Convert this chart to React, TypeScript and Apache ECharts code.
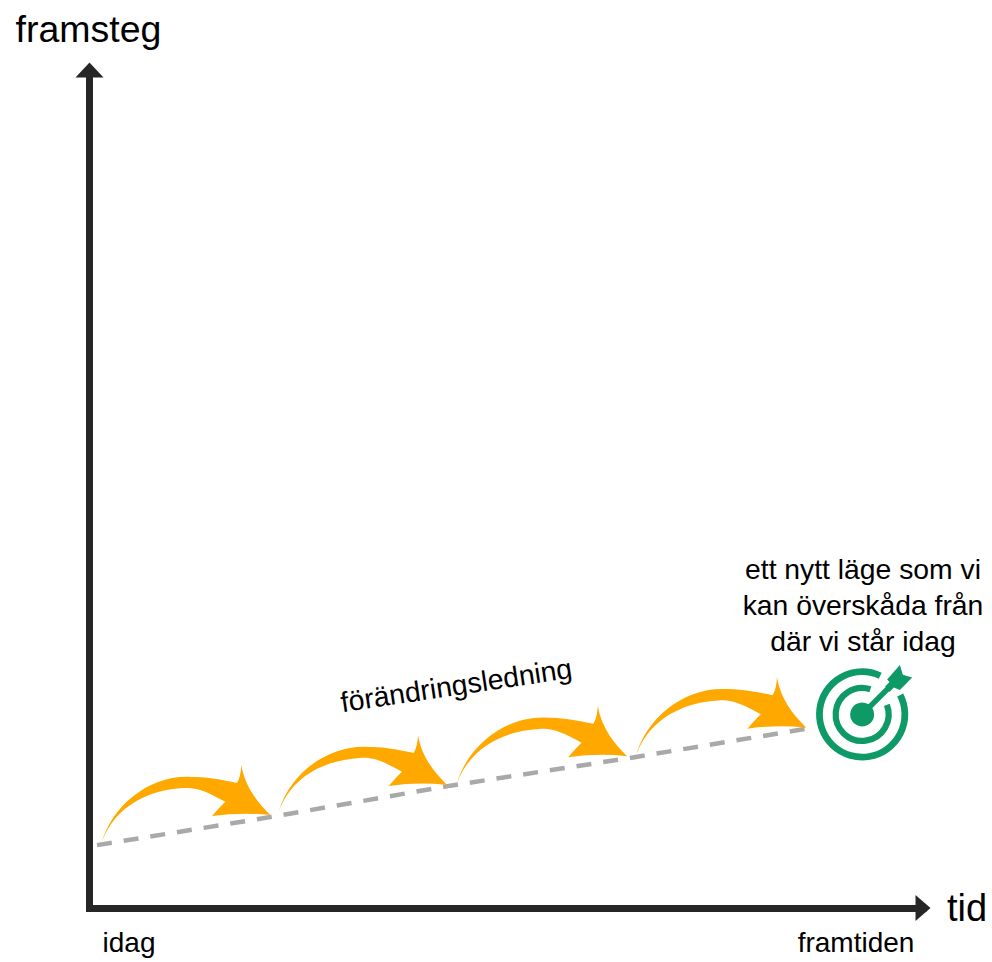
import React, { useEffect, useRef } from "react";
import * as echarts from "echarts";

// Data (both axes run 0..100)
const trendLine: number[][] = [[0.9, 7.5], [22, 10.9], [43.3, 14.6], [64.8, 17.9], [86.7, 21.5]];
const jumps: number[][] = [
  [1.5, 7.9, 21.7, 11.1],
  [22.7, 11.5, 42.9, 14.7],
  [44.1, 14.9, 64.5, 18.0],
  [65.6, 18.3, 86.0, 21.6],
];
const goal: number[][] = [[92.7, 23.1]];
const xTickValues = [4.74, 91.96];
const xTickLabels = ["idag", "framtiden"];
const yAxisName = "framsteg";
const xAxisName = "tid";
const slopeNote = "förändringsledning";
const slopeNotePoint = [44, 26.6];
const goalNote = "ett nytt läge som vi\nkan överskåda från\ndär vi står idag";
const goalNotePoint = [92.8, 36.2];

const ORANGE = "#FFA800";
const GREEN = "#0E9A66";
const INK = "#262626";
const TEXT = "#000000";
const FONT = "'Liberation Sans', Arial, sans-serif";

const ARROW_REF_WIDTH = 168.3;
echarts.graphic.registerShape(
  "jumpArrow",
  echarts.graphic.extendPath(
    "M0,0 C10,-35 45,-65 85,-65 C105,-65 120,-62 135,-58.7 C138,-64 139,-70 139.3,-76.7 C143,-55 155,-40 168.3,-26.7 Q140,-30 110,-25.7 Q118,-35 123.3,-40 C105,-50 95,-55 81,-53.7 C50,-52 14,-38 0,0 Z",
    {}
  )
);
echarts.graphic.registerShape(
  "dartFletch",
  echarts.graphic.extendPath(
    "M37.7,-49.3 L40.7,-39.7 L50,-37 L37.7,-24.3 L31.7,-27 L27.3,-22.5 L23,-28 L27.3,-32.3 L25,-35 Z",
    {}
  )
);

const deg = (d: number) => (d * Math.PI) / 180;

function renderJump(_: any, api: any) {
  const a = api.coord([api.value(0), api.value(1)]);
  const b = api.coord([api.value(2), api.value(3)]);
  const s = (b[0] - a[0]) / ARROW_REF_WIDTH;
  return { type: "jumpArrow", x: a[0], y: a[1], scaleX: s, scaleY: s, style: { fill: ORANGE } };
}

function renderGoal(_: any, api: any) {
  const [cx, cy] = api.coord([api.value(0), api.value(1)]);
  const ring = (r: number, lw: number, from: number, to: number) => ({
    type: "arc",
    shape: { cx, cy, r, startAngle: deg(from), endAngle: deg(to), clockwise: true },
    style: { stroke: GREEN, lineWidth: lw, fill: "none" },
  });
  return {
    type: "group",
    children: [
      ring(42.7, 6.8, -27, 295),
      ring(26.5, 6.2, -21, 288),
      { type: "circle", shape: { cx, cy, r: 12 }, style: { fill: GREEN } },
      { type: "line", shape: { x1: cx, y1: cy, x2: cx + 30, y2: cy - 30 }, style: { stroke: GREEN, lineWidth: 5.5 } },
      { type: "dartFletch", x: cx, y: cy, style: { fill: GREEN } },
    ],
  };
}

const axisLine = (symbolSize: number[]) => ({
  show: true,
  onZero: false,
  symbol: ["none", "triangle"],
  symbolSize,
  lineStyle: { color: INK, width: 7, cap: "square" },
});

export default function App() {
  const ref = useRef<HTMLDivElement>(null);
  useEffect(() => {
    const chart = echarts.init(ref.current!, null, { renderer: "svg" });
    chart.setOption({
      animation: false,
      backgroundColor: "#ffffff",
      grid: { left: 89.5, right: 69, top: 70, bottom: 54 },
      xAxis: {
        type: "value",
        min: 0,
        max: 100,
        name: xAxisName,
        nameLocation: "end",
        nameGap: 24,
        nameTextStyle: { fontFamily: FONT, fontSize: 38, color: TEXT },
        axisLine: axisLine([26, 15]),
        axisTick: { show: false },
        splitLine: { show: false },
        axisLabel: {
          show: true,
          customValues: xTickValues,
          hideOverlap: false,
          showMinLabel: true,
          showMaxLabel: true,
          margin: 20.5,
          fontFamily: FONT,
          fontSize: 28,
          color: TEXT,
          formatter: (v: number) => xTickLabels[xTickValues.indexOf(v)] ?? "",
        },
      },
      yAxis: {
        type: "value",
        min: 0,
        max: 100,
        name: yAxisName,
        nameLocation: "end",
        nameGap: 22,
        nameTextStyle: { fontFamily: FONT, fontSize: 37.5, color: TEXT, align: "center", verticalAlign: "bottom", padding: [0, 2, 0, 0] },
        axisLine: axisLine([28, 15]),
        axisTick: { show: false },
        splitLine: { show: false },
        axisLabel: { show: false },
      },
      series: [
        {
          type: "line",
          data: trendLine,
          symbol: "none",
          lineStyle: { color: "#A9A9A9", width: 4.5, type: [15, 12] },
          z: 2,
        },
        { type: "custom", data: jumps, renderItem: renderJump, encode: { x: [0, 2], y: [1, 3] }, clip: false, z: 3 },
        { type: "custom", data: goal, renderItem: renderGoal, encode: { x: 0, y: 1 }, clip: false, z: 3 },
        {
          type: "scatter",
          symbolSize: 0,
          itemStyle: { opacity: 1 },
          data: [slopeNotePoint],
          z: 4,
          label: {
            show: true,
            position: "inside",
            formatter: slopeNote,
            rotate: 8.5,
            fontFamily: FONT,
            fontSize: 28.4,
            color: TEXT,
            align: "center",
            verticalAlign: "middle",
          },
        },
        {
          type: "scatter",
          symbolSize: 0,
          itemStyle: { opacity: 1 },
          data: [goalNotePoint],
          z: 4,
          label: {
            show: true,
            position: "inside",
            formatter: goalNote,
            fontFamily: FONT,
            fontSize: 28.3,
            lineHeight: 36,
            color: TEXT,
            align: "center",
            verticalAlign: "middle",
          },
        },
      ],
    });
    return () => chart.dispose();
  }, []);
  return <div ref={ref} style={{ position: "absolute", left: 0, top: 0, width: 992, height: 962 }} />;
}
